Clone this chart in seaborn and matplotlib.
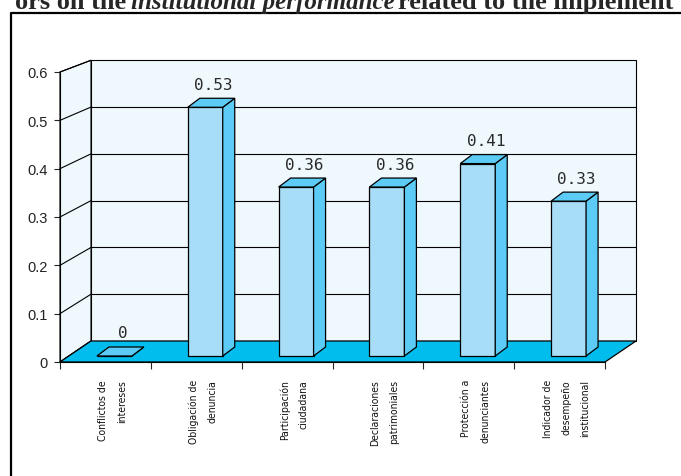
import matplotlib
matplotlib.use("Agg")
import matplotlib.pyplot as plt
import seaborn as sns
import numpy as np
import pandas as pd
from matplotlib import font_manager
from matplotlib.patches import Polygon, Rectangle
from matplotlib.transforms import Affine2D, IdentityTransform, ScaledTranslation
from matplotlib.lines import Line2D

# data
categories = ["Conflictos de\nintereses", "Obligación de\ndenuncia", "Participación\nciudadana",
              "Declaraciones\npatrimoniales", "Protección a\ndenunciantes",
              "Indicador de\ndesempeño\ninstitucional"]
values = [0, 0.53, 0.36, 0.36, 0.41, 0.33]
yticks = [0, 0.1, 0.2, 0.3, 0.4, 0.5, 0.6]
ytick_labels = ["0", "0.1", "0.2", "0.3", "0.4", "0.5", "0.6"]
title_parts = ["ors on the", "institutional performance", "related to the implement"]

wall_c = "#eef8fd"
floor_c = "#00bdee"
front_c = "#a8ddf7"
side_c = "#5ccbf5"

W, H = 681, 477
sns.set_style("ticks")
plt.rcParams['font.family'] = ['Liberation Sans', 'DejaVu Sans']

# narrow font for the category labels if there is one
fonts = [(f.name, f.stretch) for f in font_manager.fontManager.ttflist]
if any(n == "Liberation Sans Narrow" for n, s in fonts):
    cat_font = dict(family="Liberation Sans Narrow", fontsize=9)
elif any(n == "DejaVu Sans" and s in ("condensed", "semi-condensed") for n, s in fonts):
    cat_font = dict(family="DejaVu Sans", fontstretch="condensed", fontsize=7.5)
else:
    cat_font = dict(family="Liberation Sans", fontsize=7.5)

fig = plt.figure(figsize=(W / 100, H / 100), dpi=100)
ax = fig.add_axes([60 / W, (H - 363) / H, (605 - 60) / W, (363 - 73) / H])

df = pd.DataFrame({"cat": categories, "val": values})
sns.barplot(data=df, x="cat", y="val", color=front_c, saturation=1, width=0.385,
            edgecolor="black", linewidth=0.9, ax=ax)
bars = list(ax.patches)

ax.set_xlim(-0.5, 5.5)
ax.set_ylim(0, 0.6)
ax.set_facecolor("none")


def plane(dx, dy, s):
    # pseudo-3d depth plane: pixel shift and vertical scale about the floor
    y0 = H - 363
    return ax.transData + Affine2D().translate(0, -y0).scale(1, s).translate(dx, y0 - dy)


front = ax.transData
bar_f = plane(9, -6, 0.971)
bar_b = plane(21, -15, 0.971)
back = plane(31, -21, 0.968)
ident = IdentityTransform()

# back wall + grid
ax.add_patch(Rectangle((-0.5, 0), 6, 0.6, transform=back, fc=wall_c, ec="black",
                       lw=0.8, clip_on=False, zorder=1))
for t in yticks[1:-1]:
    ax.plot([-0.5, 5.5], [t, t], transform=back, color="black", lw=0.8,
            clip_on=False, zorder=1.5)

# left wall
pts = np.vstack([front.transform([(-0.5, 0), (-0.5, 0.6)]),
                 back.transform([(-0.5, 0.6), (-0.5, 0)])])
ax.add_patch(Polygon(pts, transform=ident, fc=wall_c, ec="black", lw=0.8,
                     clip_on=False, zorder=1))
for t in yticks:
    p1 = front.transform((-0.5, t))
    p2 = back.transform((-0.5, t))
    ax.add_line(Line2D([p1[0], p2[0]], [p1[1], p2[1]], transform=ident,
                       color="black", lw=0.8, clip_on=False, zorder=1.5))

# floor
pts = np.vstack([front.transform([(-0.5, 0), (5.5, 0)]),
                 back.transform([(5.5, 0), (-0.5, 0)])])
ax.add_patch(Polygon(pts, transform=ident, fc=floor_c, ec="black", lw=0.9,
                     clip_on=False, zorder=2))

# bars: move seaborn's fronts into the bar plane, add side + top faces
for p, v in zip(bars, values):
    p.set_transform(bar_f)
    p.set_clip_on(False)
    p.set_zorder(5)
    x0, w, h = p.get_x(), p.get_width(), p.get_height()
    side = np.vstack([bar_f.transform([(x0 + w, 0), (x0 + w, h)]),
                      bar_b.transform([(x0 + w, h), (x0 + w, 0)])])
    top = np.vstack([bar_f.transform([(x0, h), (x0 + w, h)]),
                     bar_b.transform([(x0 + w, h), (x0, h)])])
    ax.add_patch(Polygon(side, transform=ident, fc=side_c, ec="black", lw=0.9,
                         clip_on=False, zorder=5))
    ax.add_patch(Polygon(top, transform=ident, fc=side_c, ec="black", lw=0.9,
                         clip_on=False, zorder=5))
    mid = (bar_f.transform((x0 + w / 2, h)) + bar_b.transform((x0 + w / 2, h))) / 2
    lab = "0" if v == 0 else f"{v:.2f}"
    ax.text(mid[0] + 2, mid[1] + 11, lab, transform=ident, ha="center", va="bottom",
            fontsize=11.5, family="DejaVu Sans Mono", color="#2a2a2a", zorder=6)

# axes decoration
ax.set_yticks(yticks, labels=ytick_labels)
ax.set_xticks(np.arange(-0.5, 6, 1))
ax.set_xticklabels([])
ax.set_xlabel("")
ax.set_ylabel("")
ax.tick_params(axis="y", length=4, width=0.8, pad=5, labelsize=10.5, labelcolor="#222222")
ax.tick_params(axis="x", length=5, width=0.8)
for s in ["top", "right"]:
    ax.spines[s].set_visible(False)
for s in ["left", "bottom"]:
    ax.spines[s].set_linewidth(0.8)
    ax.spines[s].set_color("black")

off = ax.transData + ScaledTranslation(7 / 100, -17 / 100, fig.dpi_scale_trans)
for i, c in enumerate(categories):
    ax.text(i, 0, c, transform=off, rotation=90, ha="center", va="top",
            multialignment="right", linespacing=2.1, color="#111111", **cat_font)

# outer frame
fig.add_artist(Line2D([11 / W, 11 / W, 1.01], [-0.01, (H - 14) / H, (H - 14) / H],
                      transform=fig.transFigure, color="black", lw=1.6))

# cropped title (a justified line of a document)
ty = (H - 9) / H
tfont = dict(fontweight="bold", family="Liberation Serif", va="baseline")
fig.text(126 / W, ty, title_parts[0], ha="right", fontsize=19, **tfont)
fig.text(131 / W, ty, title_parts[1], ha="left", fontstyle="italic", fontsize=18, **tfont)
fig.text(398 / W, ty, title_parts[2], ha="left", fontsize=19, **tfont)

fig.savefig("out.png", dpi=100)
